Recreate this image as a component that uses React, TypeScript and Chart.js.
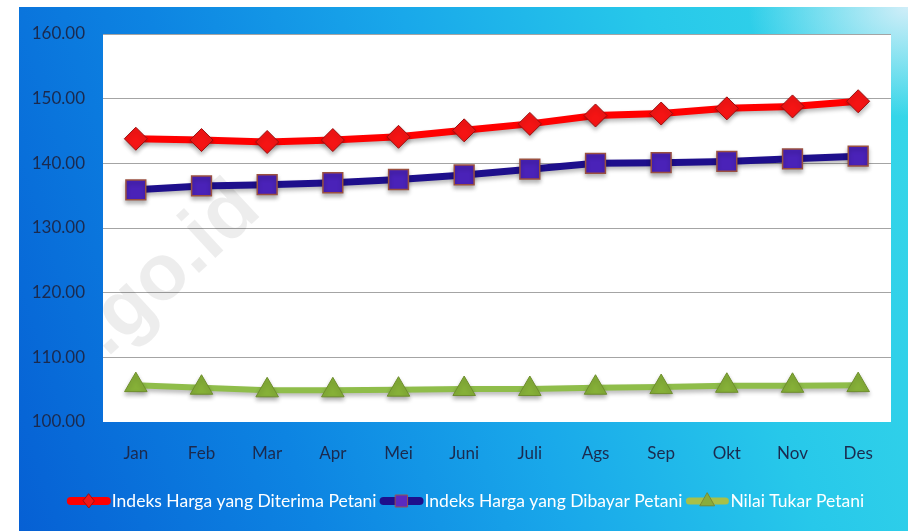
import React, { useEffect, useRef } from "react";
import { Chart, registerables } from "chart.js";

Chart.register(...registerables);

const months = ["Jan", "Feb", "Mar", "Apr", "Mei", "Juni", "Juli", "Ags", "Sep", "Okt", "Nov", "Des"];
const diterima = [143.8, 143.6, 143.3, 143.6, 144.1, 145.1, 146.1, 147.4, 147.7, 148.5, 148.8, 149.6];
const dibayar = [135.9, 136.5, 136.7, 137.0, 137.5, 138.2, 139.1, 140.0, 140.1, 140.3, 140.7, 141.1];
const ntp = [105.7, 105.3, 104.9, 104.9, 105.0, 105.1, 105.1, 105.3, 105.4, 105.6, 105.6, 105.7];
const seriesNames = ["Indeks Harga yang Diterima Petani", "Indeks Harga yang Dibayar Petani", "Nilai Tukar Petani"];
const yMin = 100;
const yMax = 160;
const yStep = 10;

const FONT = "Lato";
const TICK_COLOR = "#1b2a4e";

type Marker = "diamond" | "square" | "triangle";

function drawMarker(ctx: CanvasRenderingContext2D, kind: Marker, x: number, y: number, r: number, fill: string, stroke: string) {
  ctx.beginPath();
  if (kind === "diamond") {
    ctx.moveTo(x, y - r);
    ctx.lineTo(x + r * 0.8, y);
    ctx.lineTo(x, y + r);
    ctx.lineTo(x - r * 0.8, y);
  } else if (kind === "square") {
    ctx.rect(x - r, y - r, 2 * r, 2 * r);
  } else {
    ctx.moveTo(x, y - r);
    ctx.lineTo(x + r * 0.9, y + r * 0.6);
    ctx.lineTo(x - r * 0.9, y + r * 0.6);
  }
  ctx.closePath();
  ctx.fillStyle = fill;
  ctx.fill();
  ctx.lineWidth = 1;
  ctx.strokeStyle = stroke;
  ctx.stroke();
}

const legendItems: { color: string; width: number; marker: Marker; fill: string; stroke: string; r: number }[] = [
  { color: "#ff0000", width: 8, marker: "diamond", fill: "#f01818", stroke: "#a01010", r: 7 },
  { color: "#1e0f8c", width: 8, marker: "square", fill: "#5a2ac0", stroke: "#9a5050", r: 6 },
  { color: "#a8c048", width: 7, marker: "triangle", fill: "#8aac3a", stroke: "#7a8a30", r: 8 },
];

const bgPlugin = {
  id: "bgPlugin",
  beforeDraw(chart: any) {
    const { ctx, chartArea } = chart;
    ctx.save();
    ctx.fillStyle = "#ffffff";
    ctx.fillRect(chartArea.left, chartArea.top, chartArea.right - chartArea.left, chartArea.bottom - chartArea.top);
    ctx.restore();
  },
  beforeDatasetsDraw(chart: any) {
    const { ctx, chartArea } = chart;
    ctx.save();
    ctx.beginPath();
    ctx.rect(chartArea.left, chartArea.top, chartArea.right - chartArea.left, chartArea.bottom - chartArea.top);
    ctx.clip();
    ctx.translate(118, 318);
    ctx.rotate(-Math.PI / 4.2);
    ctx.font = "bold 80px 'Liberation Sans'";
    ctx.fillStyle = "rgba(0,0,0,0.07)";
    ctx.textAlign = "center";
    ctx.textBaseline = "middle";
    ctx.fillText("bps.go.id", 0, 0);
    ctx.restore();
  },
  beforeDatasetDraw(chart: any) {
    const ctx = chart.ctx;
    ctx.save();
    ctx.shadowColor = "rgba(0,0,0,0.28)";
    ctx.shadowBlur = 4;
    ctx.shadowOffsetY = 3;
  },
  afterDatasetDraw(chart: any) {
    chart.ctx.restore();
  },
  afterDraw(chart: any) {
    const ctx = chart.ctx as CanvasRenderingContext2D;
    ctx.save();
    ctx.font = `17.5px ${FONT}`;
    const lineLen = 42;
    const gapText = 2;
    const gapItem = 4;
    const widths = seriesNames.map((n) => ctx.measureText(n).width);
    const total = widths.reduce((a, b) => a + b, 0) + seriesNames.length * (lineLen + gapText) + (seriesNames.length - 1) * gapItem;
    let x = 466 - total / 2;
    const y = 501;
    ctx.textBaseline = "middle";
    ctx.textAlign = "left";
    seriesNames.forEach((name, i) => {
      const it = legendItems[i];
      ctx.beginPath();
      ctx.lineCap = "round";
      ctx.strokeStyle = it.color;
      ctx.lineWidth = it.width;
      ctx.moveTo(x + 3, y);
      ctx.lineTo(x + lineLen - 3, y);
      ctx.stroke();
      drawMarker(ctx, it.marker, x + lineLen / 2, y, it.r, it.fill, it.stroke);
      x += lineLen + gapText;
      ctx.fillStyle = "#ffffff";
      ctx.fillText(name, x, y);
      x += widths[i] + gapItem;
    });
    ctx.restore();
  },
};

export default function App() {
  const canvasRef = useRef<HTMLCanvasElement | null>(null);

  useEffect(() => {
    document.body.style.margin = "0";
    const canvas = canvasRef.current;
    if (!canvas) return;
    const chart = new Chart(canvas, {
      type: "line",
      data: {
        labels: months,
        datasets: [
          {
            label: seriesNames[0],
            data: diterima,
            borderColor: "#ff0000",
            borderWidth: 7,
            pointStyle: "rectRot",
            pointRadius: 11.5,
            pointBackgroundColor: "#f41414",
            pointBorderColor: "#9a1010",
            pointBorderWidth: 1,
            tension: 0,
          },
          {
            label: seriesNames[1],
            data: dibayar,
            borderColor: "#1e0f8c",
            borderWidth: 7,
            pointStyle: "rect",
            pointRadius: 14,
            pointBackgroundColor: "#4a22b8",
            pointBorderColor: "#9a5040",
            pointBorderWidth: 1.5,
            tension: 0,
          },
          {
            label: seriesNames[2],
            data: ntp,
            borderColor: "#8fbd4a",
            borderWidth: 6,
            pointStyle: "triangle",
            pointRadius: 13,
            pointBackgroundColor: "#86b038",
            pointBorderColor: "#6e8e2c",
            pointBorderWidth: 1,
            tension: 0,
          },
        ],
      },
      options: {
        responsive: false,
        animation: false,
        devicePixelRatio: 1,
        layout: { padding: { top: 34, right: 17, left: 0, bottom: 0 } },
        plugins: {
          legend: { display: false },
          tooltip: { enabled: false },
        },
        scales: {
          x: {
            offset: true,
            grid: { display: false },
            border: { display: false },
            ticks: { color: TICK_COLOR, font: { family: FONT, size: 17 }, padding: 13 },
            afterFit: (s: any) => {
              s.height = 109;
            },
          },
          y: {
            min: yMin,
            max: yMax,
            border: { display: false },
            grid: {
              drawTicks: false,
              color: (c: any) => (c.tick && c.tick.value === yMin ? "rgba(0,0,0,0)" : "#a4a4a4"),
              lineWidth: 1,
            },
            ticks: {
              stepSize: yStep,
              color: TICK_COLOR,
              font: { family: FONT, size: 17 },
              padding: 18,
              callback: (v: any) => Number(v).toFixed(2),
            },
            afterFit: (s: any) => {
              s.width = 103;
            },
          },
        },
      },
      plugins: [bgPlugin],
    });
    return () => chart.destroy();
  }, []);

  return (
    <div style={{ position: "relative", width: 908, height: 531, background: "#ffffff", overflow: "hidden" }}>
      <div
        style={{
          position: "absolute",
          left: 19,
          top: 7,
          right: 0,
          bottom: 0,
          background:
            "radial-gradient(ellipse 160px 110px at 100% 0%, rgba(225,240,250,0.9), rgba(225,240,250,0) 100%), linear-gradient(72deg, #0660d4 0%, #0d84e2 28%, #19a8ea 52%, #27c8ea 75%, #38d8e8 100%)",
        }}
      />
      <canvas ref={canvasRef} width={908} height={531} style={{ position: "absolute", left: 0, top: 0 }} />
    </div>
  );
}
